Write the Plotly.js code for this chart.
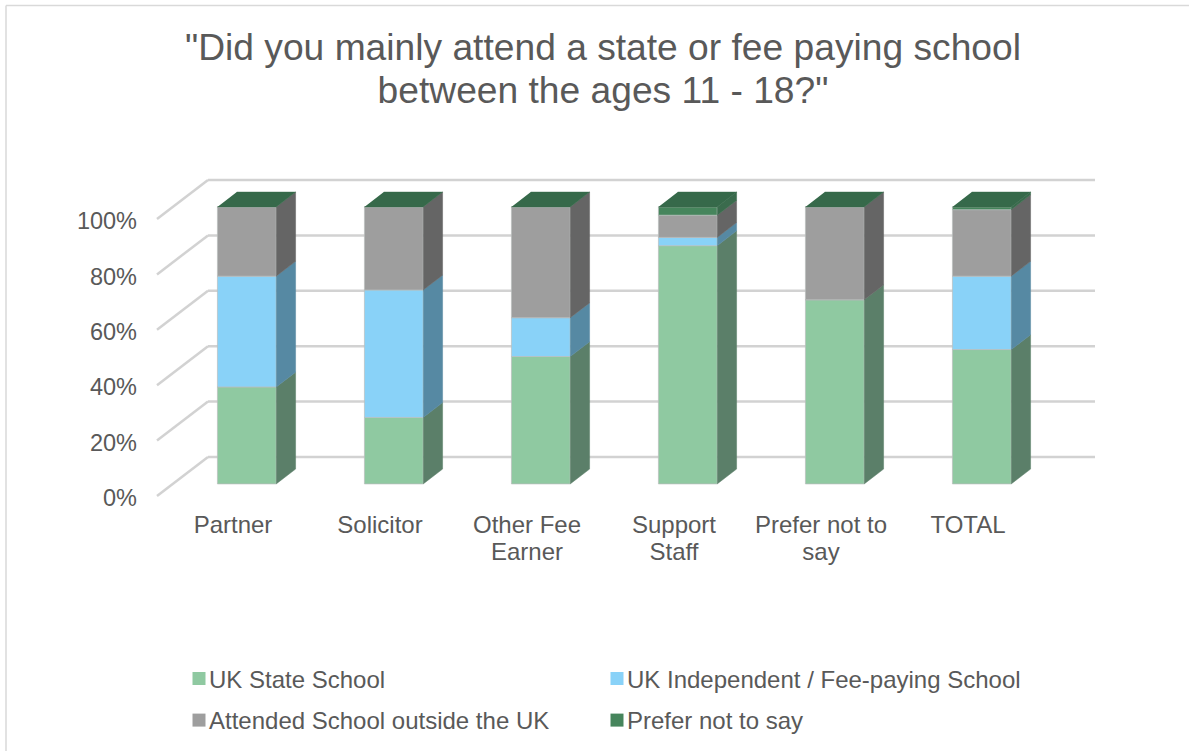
<!DOCTYPE html>
<html><head><meta charset="utf-8">
<script src="https://cdn.plot.ly/plotly-3.0.1.min.js"></script>
<style>html,body{margin:0;padding:0;background:#fff;overflow:hidden}#chart{width:1189px;height:751px}</style>
</head><body><div id="chart"></div>
<script>
const categories = ['Partner','Solicitor','Other Fee<br>Earner','Support<br>Staff','Prefer not to<br>say','TOTAL'];
const seriesNames = ['UK State School','UK Independent / Fee-paying School','Attended School outside the UK','Prefer not to say'];
const stateSchool = [35, 24, 46, 86, 66.5, 48.5];
const independent = [40, 46, 14, 3, 0, 26.5];
const outsideUK   = [25, 30, 40, 8, 33.5, 24];
const preferNot   = [0, 0, 0, 3, 0, 1];
const frontColors = ['#8FC9A1','#89D2F8','#9E9E9E','#46855C'];
const sideColors  = ['#5B7F69','#5689A3','#656565','#3A6B4D'];
const topColor = '#36694A';
const yTicks = [0,20,40,60,80,100];

const pxPerCat = 147, pxPerPct = 2.77, x0px = 231, y0px = 496;
const depthX = 51/pxPerCat, depthY = 39/pxPerPct;
const plotL = 150, plotR = 1100, plotT = 170, plotB = 503;
const front = 0.31, back = 0.69, halfW = 0.2;
const proj = (c,p,d) => [c + d*depthX, p + d*depthY];

const values = [stateSchool, independent, outsideUK, preferNot];
const idx = categories.map((_,i)=>i);
const traces = [];
const cum = idx.map(()=>0);
const sides = [];
values.forEach((vals,s)=>{
  const bases = cum.map(v=>v);
  traces.push({type:'bar', x: idx.map(i=>proj(i,0,front)[0]), y: vals,
    base: bases.map(b=>proj(0,b,front)[1]), width: 2*halfW,
    marker:{color:frontColors[s], line:{color:'rgba(185,190,188,0.7)',width:1}},
    showlegend:false, hoverinfo:'skip'});
  const sx=[], sy=[];
  idx.forEach(i=>{
    if(vals[i]<=0) return;
    const lo=bases[i], hi=bases[i]+vals[i], e=i+halfW;
    [[lo,front],[lo,back],[hi,back],[hi,front]].forEach(([p,d])=>{
      const q=proj(e,p,d); sx.push(q[0]); sy.push(q[1]);
    });
    sx.push(null); sy.push(null);
  });
  sides.push({type:'scatter',mode:'lines',x:sx,y:sy,fill:'toself',fillcolor:sideColors[s],
    line:{color:sideColors[s],width:0.5},showlegend:false,hoverinfo:'skip'});
  idx.forEach(i=>cum[i]+=vals[i]);
});
traces.push(...sides);
const tx=[],ty=[];
idx.forEach(i=>{
  [[-halfW,front],[halfW,front],[halfW,back],[-halfW,back]].forEach(([o,d])=>{
    const q=proj(i+o,cum[i],d); tx.push(q[0]); ty.push(q[1]);
  });
  tx.push(null); ty.push(null);
});
traces.push({type:'scatter',mode:'lines',x:tx,y:ty,fill:'toself',fillcolor:topColor,
  line:{color:topColor,width:0.5},showlegend:false,hoverinfo:'skip'});
seriesNames.forEach((n,s)=>{
  traces.push({type:'scatter',mode:'markers',x:[null],y:[null],name:n,
    marker:{symbol:'square',size:13,color:frontColors[s]},
    legend: s===0 ? 'legend' : 'legend'+(s+1), hoverinfo:'skip'});
});

const xMin=(plotL-x0px)/pxPerCat, xMax=(plotR-x0px)/pxPerCat;
const yMin=(y0px-plotB)/pxPerPct, yMax=(y0px-plotT)/pxPerPct;
const gridLine={color:'#D2D2D2',width:2.5};
const shapes=[];
const xStart=(157-x0px)/pxPerCat, xEnd=(1044-x0px)/pxPerCat;
yTicks.forEach(t=>{
  const a=proj(xStart,t,0), b=proj(xStart,t,1), c=proj(xEnd,t,1);
  shapes.push({type:'line',layer:'below',xref:'x',yref:'y',x0:a[0],y0:a[1],x1:b[0],y1:b[1],line:gridLine});
  shapes.push({type:'line',layer:'below',xref:'x',yref:'y',x0:b[0],y0:b[1],x1:c[0],y1:c[1],line:gridLine});
});
const paperX=p=>(p-plotL)/(plotR-plotL), paperY=p=>(plotB-p)/(plotB-plotT);
const frameLine={color:'#D9D9D9',width:1.5};
shapes.push({type:'line',xref:'paper',yref:'paper',x0:paperX(6),y0:paperY(5.5),x1:paperX(1189),y1:paperY(5.5),line:frameLine});
shapes.push({type:'line',xref:'paper',yref:'paper',x0:paperX(6),y0:paperY(5.5),x1:paperX(6),y1:paperY(751),line:frameLine});

const font={family:'"Liberation Sans",Arial,sans-serif',color:'#595959'};
const legendBase={orientation:'v',xref:'paper',yref:'paper',xanchor:'left',yanchor:'middle',
  bgcolor:'rgba(0,0,0,0)',font:{...font,size:24}};
const legendAt=(px,py)=>({...legendBase,x:paperX(px),y:paperY(py)});
const layout={
  width:1189,height:751,paper_bgcolor:'#fff',plot_bgcolor:'rgba(0,0,0,0)',
  margin:{l:plotL,r:1189-plotR,t:plotT,b:751-plotB,pad:0,autoexpand:false},
  barmode:'overlay',hovermode:false,font:font,
  title:{text:'"Did you mainly attend a state or fee paying school<br>between the ages 11 - 18?"',
    font:{...font,size:37.2},xref:'container',yref:'container',x:603/1189,xanchor:'center',y:1-59.5/751,yanchor:'top'},
  xaxis:{type:'linear',range:[xMin,xMax],tickmode:'array',tickvals:idx,ticktext:categories,showgrid:false,zeroline:false,
    showline:false,ticks:'',tickfont:{...font,size:24},ticklabelstandoff:5,ticklabelshift:2},
  yaxis:{type:'linear',range:[yMin,yMax],tickmode:'array',tickvals:yTicks,ticktext:yTicks.map(t=>t+'%'),showgrid:false,zeroline:false,
    showline:false,ticks:'',tickfont:{...font,size:23.5},ticklabelstandoff:12,ticklabelshift:2},
  shapes:shapes,
  legend:legendAt(169,679),
  legend2:legendAt(587,679),
  legend3:legendAt(169,720.5),
  legend4:legendAt(587,720.5)
};
function tightenLines(selector, delta){
  document.querySelectorAll(selector).forEach(t=>{
    t.querySelectorAll('tspan.line').forEach((l,k)=>{
      if(k>0 && l.hasAttribute('y')) l.setAttribute('y', parseFloat(l.getAttribute('y'))-k*delta);
    });
  });
}
Plotly.newPlot('chart',traces,layout,{displayModeBar:false,staticPlot:true}).then(()=>{
  document.querySelectorAll('#chart .legendsymbols').forEach(g=>g.setAttribute('transform','translate(10,0)'));
  tightenLines('#chart .gtitle',5);
  tightenLines('#chart .xtick text',4);
});
</script></body></html>
